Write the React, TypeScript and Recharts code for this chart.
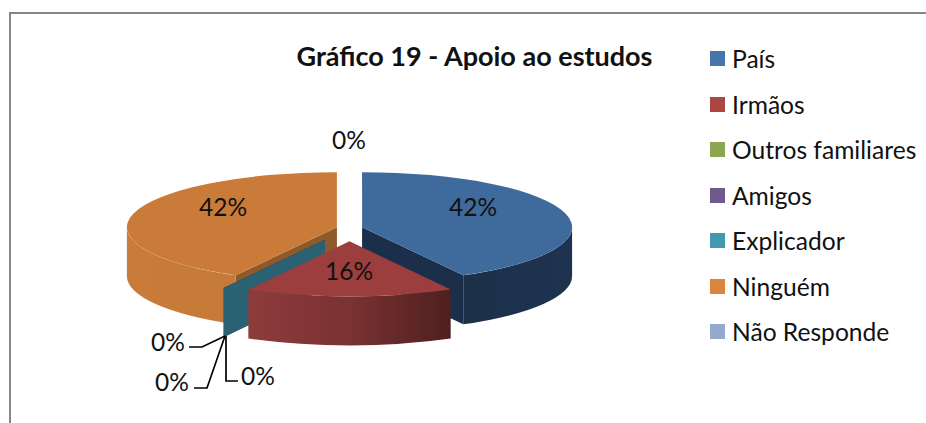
import React from 'react';
import { PieChart, Pie, Legend } from 'recharts';

const categories = ['País', 'Irmãos', 'Outros familiares', 'Amigos', 'Explicador', 'Ninguém', 'Não Responde'];
const shares = [42, 16, 0, 0, 0, 42, 0];
const legendColors = ['#4674ab', '#aa4644', '#8aa64e', '#71588f', '#4198af', '#db843d', '#93a9cf'];
const topColors = ['#3f6a9c', '#9c3d3e', '#7d9747', '#664f82', '#3a8a9f', '#cb7b39', '#8599bc'];
const edgeColors = ['#1c2f4a', '#5e2526', '#4b5a2a', '#3d2f4e', '#2a6173', '#8f5a2a', '#505c71'];
const wallFills = ['url(#wallBlue)', 'url(#wallRed)', '#4b5a2a', '#3d2f4e', '#2a6173', 'url(#wallOrange)', '#505c71'];
// how far each slice is pulled out of the pie, same unit as the radius
const explosion = [13, 51, 51, 51, 51, 13, 13];

// back to front, the slices overlap each other in this order
const layers = [['Ninguém', 'Não Responde'], ['Outros familiares', 'Amigos', 'Explicador'], ['País', 'Irmãos']];

const labelSpots: Record<string, { x: number; y: number; leader?: string }> = {
  'País': { x: 473, y: 206 },
  'Irmãos': { x: 349, y: 270 },
  'Outros familiares': { x: 168, y: 341, leader: '189,347 202,347 225,336' },
  'Amigos': { x: 172, y: 381, leader: '194,388 207,388 225,336' },
  'Explicador': { x: 258, y: 375, leader: '238,381 226,381 226,336' },
  'Ninguém': { x: 223, y: 206 },
  'Não Responde': { x: 349, y: 139 },
};

const chartData = categories.map((name, i) => ({ name, value: shares[i] }));

const FONT = 'Lato, "Open Sans", sans-serif';
const TILT = 0.262;
const DEPTH = 49;

const makeSlice = (layer: string[]) => (props: any) => {
  const { cx, cy, outerRadius, startAngle, endAngle, index } = props;
  const name = categories[index];
  if (!layer.includes(name)) return <g />;

  const rx = outerRadius;
  const ry = outerRadius * TILT;
  const mid = ((startAngle + endAngle) / 2) * (Math.PI / 180);
  const x0 = cx + explosion[index] * Math.cos(mid);
  const y0 = cy - explosion[index] * TILT * Math.sin(mid);
  const pt = (deg: number, drop = 0) => {
    const a = deg * (Math.PI / 180);
    return `${x0 + rx * Math.cos(a)} ${y0 - ry * Math.sin(a) + drop}`;
  };
  const arc = (from: number, to: number, sweep: number) => {
    const large = Math.abs(to - from) > 180 ? 1 : 0;
    return `A ${rx} ${ry} 0 ${large} ${sweep} ${pt(to, sweep ? 0 : DEPTH)}`;
  };

  // clock angles: 0 at twelve o'clock, growing clockwise
  const clockStart = 90 - startAngle;
  const clockEnd = 90 - endAngle;
  const wallFrom = Math.max(clockStart, 90);
  const wallTo = Math.min(clockEnd, 270);
  const parts: React.ReactNode[] = [];

  const radialWall = (deg: number, key: string) => (
    <path
      key={key}
      d={`M ${x0} ${y0} L ${pt(deg)} L ${pt(deg, DEPTH)} L ${x0} ${y0 + DEPTH} Z`}
      fill={edgeColors[index]}
    />
  );
  const startSin = Math.sin((clockStart * Math.PI) / 180);
  const endSin = Math.sin((clockEnd * Math.PI) / 180);
  if (startSin < -0.001) parts.push(radialWall(startAngle, 'start'));
  if (endSin > 0.001) parts.push(radialWall(endAngle, 'end'));

  if (wallTo > wallFrom) {
    const a = 90 - wallFrom;
    const b = 90 - wallTo;
    parts.push(
      <path
        key="outer"
        d={`M ${pt(a)} ${arc(a, b, 1)} L ${pt(b, DEPTH)} A ${rx} ${ry} 0 0 0 ${pt(a, DEPTH)} Z`}
        fill={wallFills[index]}
      />,
    );
  }
  if (clockEnd > clockStart) {
    parts.push(
      <path
        key="top"
        d={`M ${x0} ${y0} L ${pt(startAngle)} ${arc(startAngle, endAngle, 1)} Z`}
        fill={topColors[index]}
      />,
    );
  }
  return <g>{parts}</g>;
};

const renderLabel = (props: any) => {
  const spot = labelSpots[props.name];
  return (
    <g key={props.name}>
      {spot.leader && <polyline points={spot.leader} fill="none" stroke="#000" strokeWidth={1.7} />}
      <text x={spot.x} y={spot.y} textAnchor="middle" dominantBaseline="central" fontFamily={FONT} fontSize={24.5} fill="#111">
        {`${Math.round(props.percent * 100)}%`}
      </text>
    </g>
  );
};

const renderLegend = () => (
  <div style={{ position: 'absolute', left: 710, top: 36 }}>
    {categories.map((name, i) => (
      <div key={name} style={{ display: 'flex', alignItems: 'center', height: 45.5, fontFamily: FONT, fontSize: 24.6, color: '#111', whiteSpace: 'nowrap' }}>
        <span style={{ width: 15, height: 15, background: legendColors[i], marginRight: 7 }} />
        {name}
      </div>
    ))}
  </div>
);

export default function App() {
  return (
    <div style={{ position: 'absolute', left: 0, top: 0, width: 926, height: 423, background: '#fff', overflow: 'hidden' }}>
      <div style={{ position: 'absolute', left: 9, top: 12, width: 917, height: 411, borderLeft: '2px solid #868686', borderTop: '2px solid #868686' }} />
      <div style={{ position: 'absolute', left: 0, top: 0 }}>
        <PieChart width={926} height={423} margin={{ top: 0, right: 0, bottom: 0, left: 0 }}>
          <defs>
            <linearGradient id="wallBlue" x1="0" y1="0" x2="1" y2="0">
              <stop offset="0" stopColor="#1c3049" />
              <stop offset="1" stopColor="#1e3350" />
            </linearGradient>
            <linearGradient id="wallRed" x1="0" y1="0" x2="1" y2="0">
              <stop offset="0" stopColor="#8e3b3b" />
              <stop offset="0.5" stopColor="#7a3232" />
              <stop offset="1" stopColor="#4f1f1f" />
            </linearGradient>
            <linearGradient id="wallOrange" x1="0" y1="0" x2="1" y2="0">
              <stop offset="0" stopColor="#c97c3a" />
              <stop offset="1" stopColor="#c67a38" />
            </linearGradient>
          </defs>
          <text x={474.5} y={55} textAnchor="middle" dominantBaseline="central" fontFamily={FONT} fontWeight={700} fontSize={27} fill="#111">
            Gráfico 19 - Apoio ao estudos
          </text>
          {layers.map((layer, i) => (
            <Pie
              key={i}
              data={chartData}
              dataKey="value"
              nameKey="name"
              cx={349.5}
              cy={228}
              outerRadius={210}
              startAngle={90}
              endAngle={-270}
              stroke="none"
              shape={makeSlice(layer)}
              label={i === layers.length - 1 ? renderLabel : false}
              labelLine={false}
              isAnimationActive={false}
            />
          ))}
          <Legend content={renderLegend} wrapperStyle={{ position: 'absolute', left: 0, top: 0, width: 0, height: 0 }} />
        </PieChart>
      </div>
    </div>
  );
}
